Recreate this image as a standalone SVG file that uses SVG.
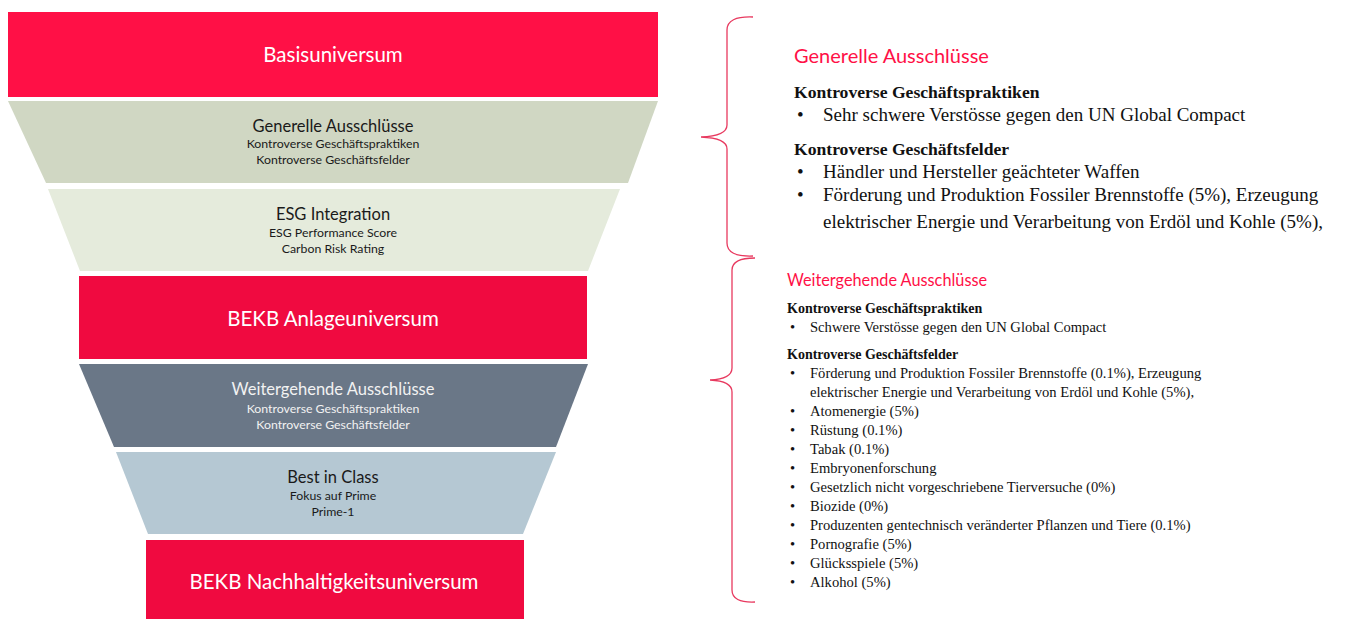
<svg xmlns="http://www.w3.org/2000/svg" width="1347" height="619" viewBox="0 0 1347 619">
<style>
.t{font-family:Lato,"Liberation Sans",sans-serif;text-anchor:middle}
.big{font-size:20.5px;fill:#fff}
.h{font-size:16.5px}
.s{font-size:12.3px}
.dk{fill:#1a1a1a}
.lt{fill:#f2f2f2}
.pk{font-family:Lato,"Liberation Sans",sans-serif;fill:#ff1046}
.tm{font-family:"Liberation Serif",serif;fill:#111}
.b{font-weight:bold}
.brace{fill:none;stroke:#e8395f;stroke-width:1.3}
</style>
<g id="basisuniversum">
<rect x="8" y="12" width="650" height="85" fill="#ff1046"/>
<text class="t big" x="333" y="62">Basisuniversum</text>
</g>
<g id="generelle">
<polygon points="8,101 658,101 628,183 46,183" fill="#d0d7c3"/>
<text class="t h dk" x="333" y="132">Generelle Ausschlüsse</text>
<text class="t s dk" x="333" y="148">Kontroverse Geschäftspraktiken</text>
<text class="t s dk" x="333" y="164">Kontroverse Geschäftsfelder</text>
</g>
<g id="esg">
<polygon points="48,189 620,189 588,271 80,271" fill="#e5ebdc"/>
<text class="t h dk" x="333" y="220">ESG Integration</text>
<text class="t s dk" x="333" y="237">ESG Performance Score</text>
<text class="t s dk" x="333" y="253">Carbon Risk Rating</text>
</g>
<g id="anlageuniversum">
<rect x="79" y="276" width="508" height="83" fill="#f00a40"/>
<text class="t big" x="333" y="326">BEKB Anlageuniversum</text>
</g>
<g id="weitergehende">
<polygon points="79,364 588,364 556,447 114,447" fill="#6a7787"/>
<text class="t h lt" x="333" y="395">Weitergehende Ausschlüsse</text>
<text class="t s lt" x="333" y="413">Kontroverse Geschäftspraktiken</text>
<text class="t s lt" x="333" y="429">Kontroverse Geschäftsfelder</text>
</g>
<g id="bestinclass">
<polygon points="116,452 556,452 523,534 148,534" fill="#b5c8d3"/>
<text class="t h dk" x="333" y="483">Best in Class</text>
<text class="t s dk" x="333" y="500">Fokus auf Prime</text>
<text class="t s dk" x="333" y="516">Prime-1</text>
</g>
<g id="nachhaltigkeitsuniversum">
<rect x="146" y="540" width="378" height="79" fill="#f00a40"/>
<text class="t big" x="334" y="589">BEKB Nachhaltigkeitsuniversum</text>
</g>
<g id="connectors">
<path class="brace" d="M753,17 Q727,16 727,30 L727,125 Q727,136 701,137 Q727,138 727,149 L727,243 Q727,257 753,256"/>
<path class="brace" d="M755,258 Q732,258 732,270 L732,368 Q732,379 710,380 Q732,381 732,392 L732,590 Q732,603 755,602"/>
</g>
<g id="generelle-details" font-size="19">
<text class="pk" x="794" y="63" font-size="20">Generelle Ausschlüsse</text>
<text class="tm b" x="794" y="98" font-size="17.6">Kontroverse Geschäftspraktiken</text>
<text class="tm" x="797" y="121">•</text>
<text class="tm" x="823" y="121">Sehr schwere Verstösse gegen den UN Global Compact</text>
<text class="tm b" x="794" y="155" font-size="17.6">Kontroverse Geschäftsfelder</text>
<text class="tm" x="797" y="178">•</text>
<text class="tm" x="823" y="178">Händler und Hersteller geächteter Waffen</text>
<text class="tm" x="797" y="201">•</text>
<text class="tm" x="823" y="201">Förderung und Produktion Fossiler Brennstoffe (5%), Erzeugung</text>
<text class="tm" x="823" y="228">elektrischer Energie und Verarbeitung von Erdöl und Kohle (5%),</text>
</g>
<g id="weitergehende-details" font-size="14.6">
<text class="pk" x="787" y="286" font-size="16.3">Weitergehende Ausschlüsse</text>
<text class="tm b" x="787" y="313" font-size="14">Kontroverse Geschäftspraktiken</text>
<text class="tm" x="790" y="332">•</text>
<text class="tm" x="810" y="332">Schwere Verstösse gegen den UN Global Compact</text>
<text class="tm b" x="787" y="359" font-size="14">Kontroverse Geschäftsfelder</text>
<text class="tm" x="790" y="378">•</text>
<text class="tm" x="810" y="378">Förderung und Produktion Fossiler Brennstoffe (0.1%), Erzeugung</text>
<text class="tm" x="810" y="397">elektrischer Energie und Verarbeitung von Erdöl und Kohle (5%),</text>
<text class="tm" x="790" y="416">•</text>
<text class="tm" x="810" y="416">Atomenergie (5%)</text>
<text class="tm" x="790" y="435">•</text>
<text class="tm" x="810" y="435">Rüstung (0.1%)</text>
<text class="tm" x="790" y="454">•</text>
<text class="tm" x="810" y="454">Tabak (0.1%)</text>
<text class="tm" x="790" y="473">•</text>
<text class="tm" x="810" y="473">Embryonenforschung</text>
<text class="tm" x="790" y="492">•</text>
<text class="tm" x="810" y="492">Gesetzlich nicht vorgeschriebene Tierversuche (0%)</text>
<text class="tm" x="790" y="511">•</text>
<text class="tm" x="810" y="511">Biozide (0%)</text>
<text class="tm" x="790" y="530">•</text>
<text class="tm" x="810" y="530">Produzenten gentechnisch veränderter Pflanzen und Tiere (0.1%)</text>
<text class="tm" x="790" y="549">•</text>
<text class="tm" x="810" y="549">Pornografie (5%)</text>
<text class="tm" x="790" y="568">•</text>
<text class="tm" x="810" y="568">Glücksspiele (5%)</text>
<text class="tm" x="790" y="587">•</text>
<text class="tm" x="810" y="587">Alkohol (5%)</text>
</g>
</svg>
